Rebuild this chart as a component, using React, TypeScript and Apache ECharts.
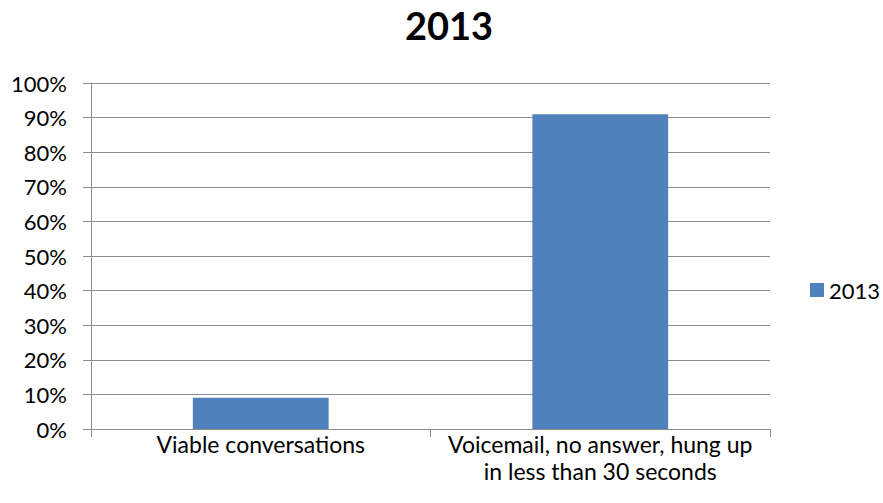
import React, { useEffect, useRef } from "react";
import * as echarts from "echarts";

const categories = ["Viable conversations", "Voicemail, no answer, hung up\nin less than 30 seconds"];
const seriesName = "2013";
const values = [0.09, 0.91];
const yTicks = [0, 0.1, 0.2, 0.3, 0.4, 0.5, 0.6, 0.7, 0.8, 0.9, 1.0];

const FONT = "Lato, 'Open Sans', sans-serif";

export default function App() {
  const ref = useRef<HTMLDivElement>(null);
  useEffect(() => {
    if (!ref.current) return;
    const chart = echarts.init(ref.current, undefined, { renderer: "svg" });
    chart.setOption({
      animation: false,
      backgroundColor: "#ffffff",
      title: {
        text: "2013",
        left: 405,
        top: 3,
        padding: 0,
        textStyle: { fontFamily: FONT, fontSize: 38, fontWeight: "bold", color: "#000", lineHeight: 44 },
      },
      legend: {
        orient: "vertical",
        left: 810,
        top: 279,
        padding: 0,
        itemWidth: 14,
        itemHeight: 14,
        itemGap: 6,
        icon: "rect",
        textStyle: { fontFamily: FONT, fontSize: 22, color: "#000" },
        data: [seriesName],
      },
      grid: { left: 91, right: 113, top: 83, bottom: 74, containLabel: false },
      xAxis: {
        type: "category",
        data: categories,
        axisLine: { show: true, lineStyle: { color: "#8c8c8c", width: 1 } },
        axisTick: { show: true, length: 8, lineStyle: { color: "#8c8c8c" } },
        axisLabel: {
          interval: 0,
          margin: 1,
          fontFamily: FONT,
          fontSize: 23,
          lineHeight: 27,
          color: "#000",
        },
      },
      yAxis: {
        type: "value",
        min: 0,
        max: 1,
        interval: 0.1,
        axisLine: { show: true, lineStyle: { color: "#8c8c8c", width: 1 } },
        axisTick: { show: true, length: 8, lineStyle: { color: "#8c8c8c" } },
        splitLine: { show: true, lineStyle: { color: "#8c8c8c", width: 1 } },
        axisLabel: {
          margin: 24,
          fontFamily: FONT,
          fontSize: 22,
          color: "#000",
          formatter: (v: number) => {
            const t = yTicks.find((x) => Math.abs(x - v) < 1e-9);
            return Math.round((t ?? v) * 100) + "%";
          },
        },
      },
      series: [
        {
          name: seriesName,
          type: "bar",
          data: values,
          barWidth: "40%",
          itemStyle: { color: "#4f81bd" },
        },
      ],
    });
    return () => chart.dispose();
  }, []);
  return (
    <div
      ref={ref}
      style={{ position: "fixed", left: 0, top: 0, width: 883, height: 503, background: "#fff" }}
    />
  );
}
